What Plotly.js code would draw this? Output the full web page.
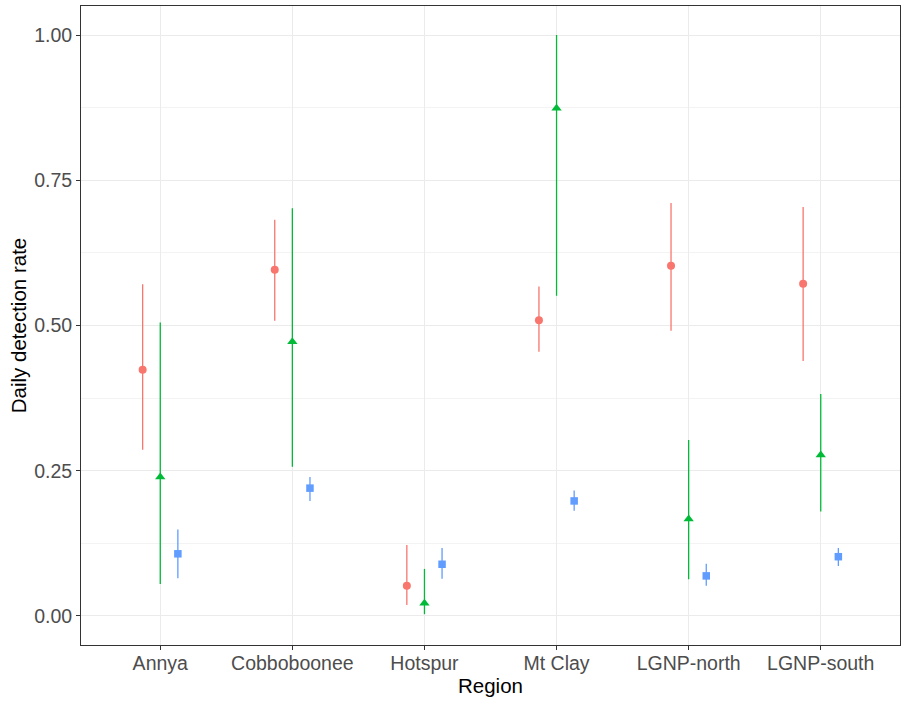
<!DOCTYPE html>
<html>
<head>
<meta charset="utf-8">
<script src="https://cdn.plot.ly/plotly-3.0.1.min.js"></script>
<style>html,body{margin:0;padding:0;background:#fff;}#chart{width:906px;height:701px;}</style>
</head>
<body>
<div id="chart"></div>
<script>
const regions = ["Annya", "Cobboboonee", "Hotspur", "Mt Clay", "LGNP-north", "LGNP-south"];

const redEst   = [0.424, 0.596, 0.052, 0.509, 0.603, 0.572];
const redLo    = [0.286, 0.508, 0.019, 0.455, 0.491, 0.439];
const redHi    = [0.571, 0.682, 0.122, 0.567, 0.711, 0.704];

const greenEst = [0.239, 0.472, 0.022, 0.874, 0.167, 0.277];
const greenLo  = [0.055, 0.257, 0.003, 0.551, 0.063, 0.180];
const greenHi  = [0.505, 0.702, 0.081, 1.000, 0.303, 0.382];

const blueEst  = [0.107, 0.220, 0.089, 0.198, 0.069, 0.102];
const blueLo   = [0.065, 0.198, 0.064, 0.181, 0.052, 0.086];
const blueHi   = [0.149, 0.239, 0.117, 0.216, 0.090, 0.117];

const groups = [
  {est: redEst, lo: redLo, hi: redHi, color: "#F8766D", symbol: "circle", off: -0.4/3, size: 8},
  {est: greenEst, lo: greenLo, hi: greenHi, color: "#00BA38", symbol: "triangle-up", off: 0, size: 9},
  {est: blueEst, lo: blueLo, hi: blueHi, color: "#619CFF", symbol: "square", off: 0.4/3, size: 7.5}
];

const traces = groups.map(g => ({
  type: "scatter",
  mode: "markers",
  x: regions.map((r, i) => i + 1 + g.off),
  y: g.est,
  marker: {color: g.color, symbol: g.symbol, size: g.size, line: {width: 0}},
  error_y: {
    type: "data", symmetric: false,
    array: g.est.map((v, i) => g.hi[i] - v),
    arrayminus: g.est.map((v, i) => v - g.lo[i]),
    color: g.color, thickness: 1.3, width: 0
  },
  showlegend: false,
  hoverinfo: "skip"
}));

const layout = {
  width: 906, height: 701,
  margin: {l: 81, r: 6, t: 6, b: 56},
  paper_bgcolor: "#fff", plot_bgcolor: "#fff",
  font: {family: "Liberation Sans, Arial, sans-serif"},
  showlegend: false,
  xaxis: {
    range: [0.4, 6.6],
    tickmode: "array",
    tickvals: regions.map((r, i) => i + 1),
    ticktext: regions,
    showgrid: true, gridcolor: "#EBEBEB", gridwidth: 1,
    zeroline: false,
    ticks: "outside", ticklen: 4, tickcolor: "#333333", tickwidth: 1,
    ticklabelstandoff: -3,
    tickfont: {size: 19.5, color: "#4D4D4D"},
    showline: true, mirror: true, linecolor: "#333333", linewidth: 1,
    title: {text: "Region", font: {size: 20.5, color: "#000"}, standoff: 1}
  },
  yaxis: {
    range: [-0.05, 1.05],
    tickvals: [0, 0.25, 0.5, 0.75, 1.0],
    ticktext: ["0.00", "0.25", "0.50", "0.75", "1.00"],
    showgrid: true, gridcolor: "#EBEBEB", gridwidth: 1,
    minor: {tickvals: [0.125, 0.375, 0.625, 0.875], showgrid: true, gridcolor: "#F3F3F3", gridwidth: 1, ticks: ""},
    zeroline: false,
    ticks: "outside", ticklen: 4, tickcolor: "#333333", tickwidth: 1,
    tickfont: {size: 19.5, color: "#4D4D4D"},
    showline: true, mirror: true, linecolor: "#333333", linewidth: 1,
    title: {text: "Daily detection rate", font: {size: 20.5, color: "#000"}, standoff: 1}
  }
};

Plotly.newPlot("chart", traces, layout, {displayModeBar: false, staticPlot: true});
</script>
</body>
</html>
